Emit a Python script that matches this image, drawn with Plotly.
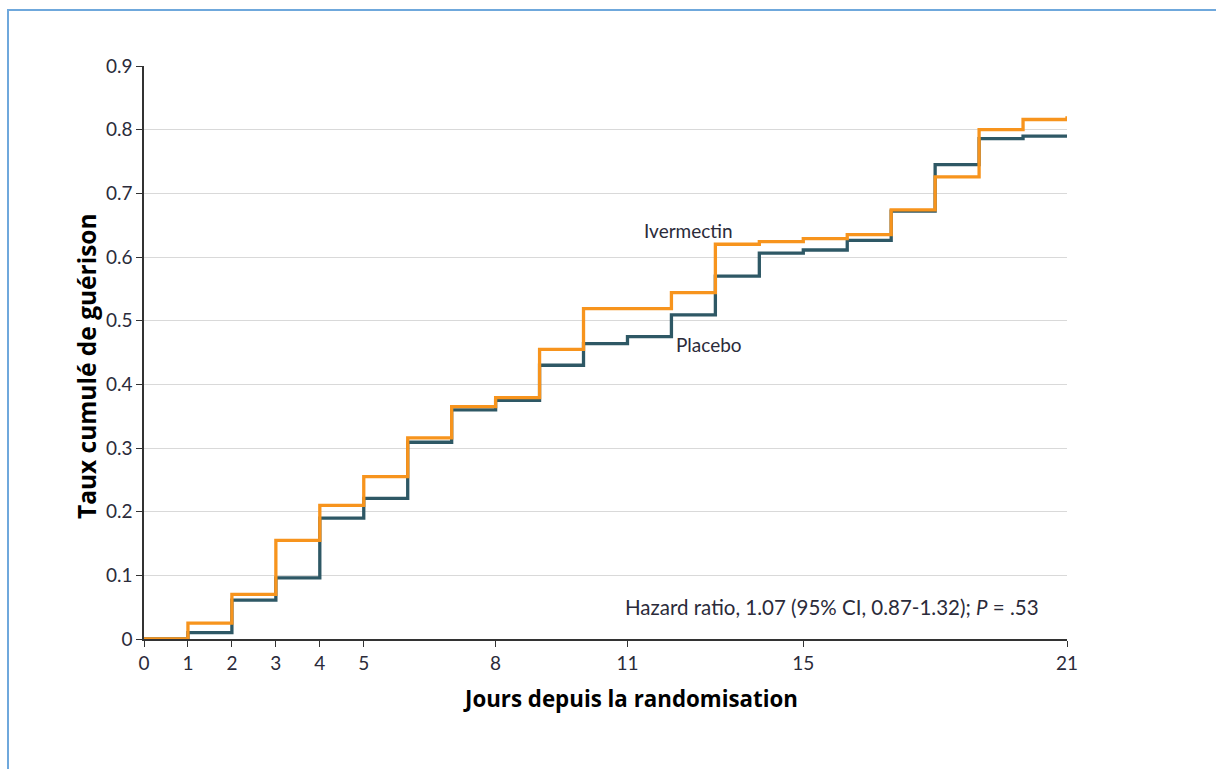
import plotly.graph_objects as go

days = list(range(0, 22))
ivermectin = [0.0, 0.025, 0.07, 0.155, 0.21, 0.255, 0.316, 0.365, 0.379, 0.455,
              0.519, 0.519, 0.544, 0.62, 0.624, 0.629, 0.635, 0.674, 0.726, 0.800,
              0.816, 0.821]
placebo = [0.0, 0.01, 0.061, 0.096, 0.19, 0.221, 0.309, 0.36, 0.375, 0.43,
           0.464, 0.475, 0.509, 0.57, 0.606, 0.611, 0.626, 0.672, 0.745, 0.786,
           0.790, 0.790]
x_ticks = [0, 1, 2, 3, 4, 5, 8, 11, 15, 21]
y_ticks = [0, 0.1, 0.2, 0.3, 0.4, 0.5, 0.6, 0.7, 0.8, 0.9]
y_tick_labels = ["0", "0.1", "0.2", "0.3", "0.4", "0.5", "0.6", "0.7", "0.8", "0.9"]

ORANGE = "#F7941D"
TEAL = "#2E5865"
FONT = "Lato"
TFONT = "Open Sans"
TXT = "#2b2b3a"

fig = go.Figure()
fig.add_trace(go.Scatter(x=days, y=placebo, mode="lines", line_shape="hv",
                         line=dict(color=TEAL, width=3.3), name="Placebo",
                         showlegend=False))
fig.add_trace(go.Scatter(x=days, y=ivermectin, mode="lines", line_shape="hv",
                         line=dict(color=ORANGE, width=3.3), name="Ivermectin",
                         showlegend=False))

fig.update_layout(
    width=1216, height=769,
    margin=dict(l=144, r=149, t=66, b=130),
    paper_bgcolor="white", plot_bgcolor="white",
    font=dict(family=FONT, size=16, color=TXT),
    xaxis=dict(range=[0, 21], tickvals=x_ticks, ticktext=[str(t) for t in x_ticks],
               showgrid=False, zeroline=False, showline=True, linecolor="#333",
               linewidth=1.5, ticks="outside", ticklen=6, tickcolor="#333",
               tickfont=dict(size=19, family=FONT, color=TXT)),
    yaxis=dict(range=[0, 0.9], tickvals=y_ticks, ticktext=y_tick_labels,
               showgrid=True, gridcolor="#d9d9d9", gridwidth=1, zeroline=False,
               showline=True, linecolor="#333", linewidth=1.5, ticks="outside",
               ticklen=6, tickcolor="#333",
               tickfont=dict(size=19, family=FONT, color=TXT)),
    shapes=[dict(type="rect", xref="paper", yref="paper",
                 x0=(8 - 144) / 923, x1=1.25, y0=-0.30, y1=(639 - 10) / 573,
                 line=dict(color="#6fa8dc", width=2), fillcolor="rgba(0,0,0,0)",
                 layer="below")],
    annotations=[
        dict(x=12.38, y=0.642, xref="x", yref="y", text="Ivermectin", showarrow=False,
             xanchor="center", yanchor="middle", font=dict(size=19, family=FONT, color=TXT)),
        dict(x=12.86, y=0.463, xref="x", yref="y", text="Placebo", showarrow=False,
             xanchor="center", yanchor="middle", font=dict(size=19, family=FONT, color=TXT)),
        dict(x=20.41, y=0.050, xref="x", yref="y",
             text="Hazard ratio, 1.07 (95% CI, 0.87-1.32); <i>P</i> = .53",
             showarrow=False, xanchor="right", yanchor="middle",
             font=dict(size=20.5, family=FONT, color=TXT)),
    ],
)

# Axis titles positioned as annotations in paper coords
fig.add_annotation(x=(630 - 144) / 923, y=-(698 - 639) / 573, xref="paper", yref="paper",
                   text="<b>Jours depuis la randomisation</b>", showarrow=False,
                   xanchor="center", yanchor="middle",
                   font=dict(size=22.3, family=TFONT, color="#000"))
fig.add_annotation(x=-(144 - 86) / 923, y=(639 - 366) / 573, xref="paper", yref="paper",
                   text="<b>Taux cumulé de guérison</b>", showarrow=False, textangle=-90,
                   xanchor="center", yanchor="middle",
                   font=dict(size=24.5, family=TFONT, color="#000"))

fig.write_html("out.html")
